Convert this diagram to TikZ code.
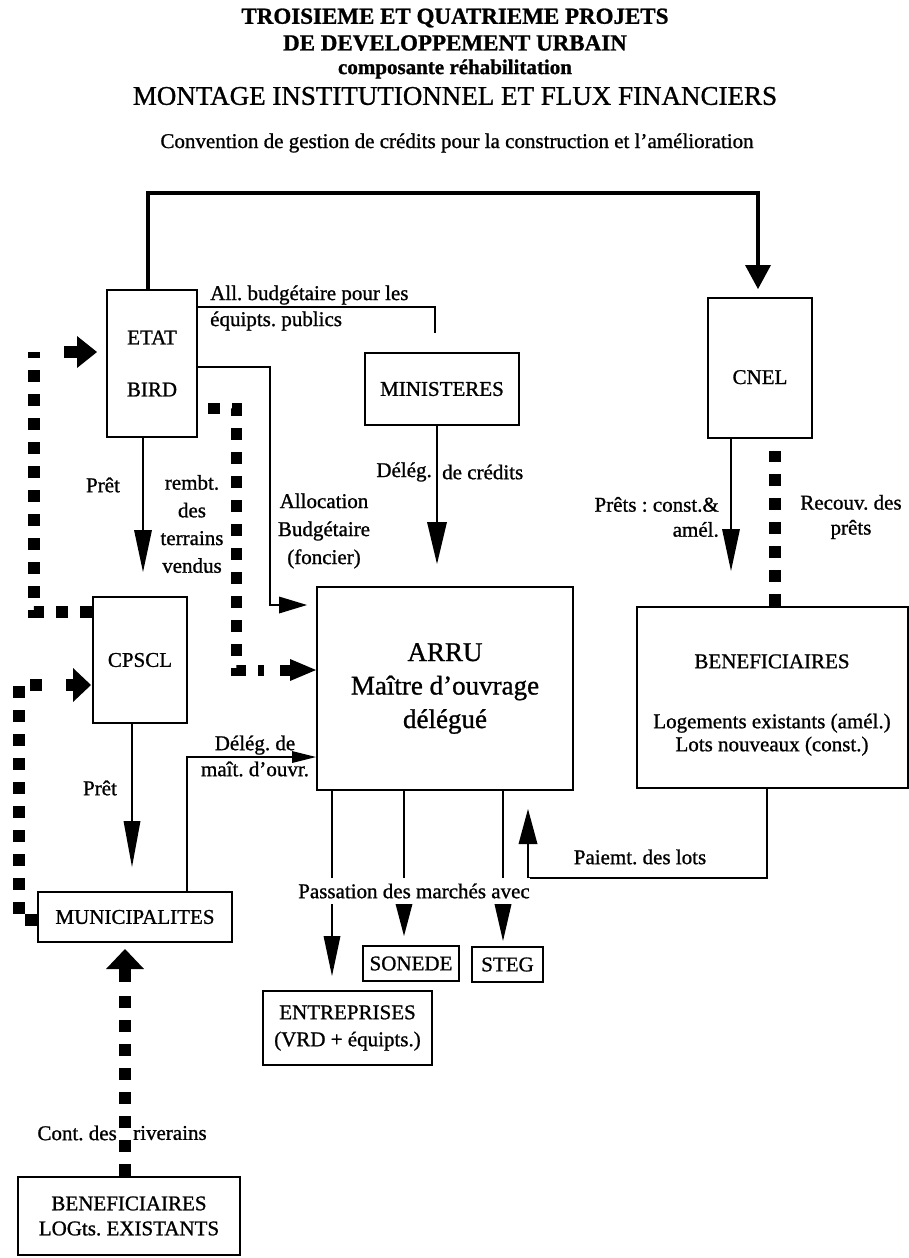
\documentclass[tikz,border=0pt]{standalone}
\usepackage{fontspec}
\setmainfont[FakeBold=1]{Liberation Serif}
\usetikzlibrary{arrows.meta,calc}
\frenchspacing
\begin{document}
\begin{tikzpicture}[x=1pt,y=-1pt,
  box/.style={draw, line width=2pt, rectangle, inner sep=0pt, align=center, font=\fontsize{21}{25}\selectfont},
  lbl/.style={inner sep=0pt, align=center, font=\fontsize{21}{25}\selectfont},
  plain/.style={line width=2pt},
  flow/.style={line width=2pt, -{Triangle[length=42pt,width=18pt,line width=0pt]}},
  mainline/.style={line width=4pt, -{Triangle[length=24pt,width=26pt,line width=0pt]}},
  dotline/.style={line width=12pt, dash pattern=on 12pt off 12pt},
  fatarrow/.style={line width=12pt, -{Triangle[length=20pt,width=32pt,line width=0pt]}}
]
\useasboundingbox (0,0) rectangle (909,1258);

% ---------- titles ----------
\node[lbl, font=\bfseries\fontsize{23}{23}\selectfont] (t1) at (455,18) {TROISIEME ET QUATRIEME PROJETS};
\node[lbl, font=\bfseries\fontsize{23}{23}\selectfont] (t2) at (455,43) {DE DEVELOPPEMENT URBAIN};
\node[lbl, font=\bfseries\fontsize{21}{21}\selectfont] (t3) at (455,69) {composante réhabilitation};
\node[lbl, font=\fontsize{27}{27}\selectfont] (t4) at (455,96) {MONTAGE INSTITUTIONNEL ET FLUX FINANCIERS};
\node[lbl] (conv) at (457,143) {Convention de gestion de crédits pour la construction et l'amélioration};

% ---------- boxes ----------
\node[box, minimum width=90pt, minimum height=147pt, font=\fontsize{21}{52}\selectfont] (etat) at (152,363.5) {ETAT\\BIRD};
\node[box, minimum width=154pt, minimum height=72pt] (min) at (442,389) {MINISTERES};
\node[box, minimum width=104pt, minimum height=140pt, text height=32pt, text depth=0pt] (cnel) at (760,368) {CNEL};
\node[box, minimum width=256pt, minimum height=203pt, font=\fontsize{27}{33.5}\selectfont] (arru) at (445,688.5) {ARRU\\Maître d'ouvrage\\délégué};
\node[box, minimum width=271pt, minimum height=181pt] (benef) at (772.5,697.5) {};
\node[lbl, font=\fontsize{21}{23}\selectfont] (benefT) at (772,705) {BENEFICIAIRES\\[37pt]Logements existants (amél.)\\Lots nouveaux (const.)};
\node[box, minimum width=94pt, minimum height=126pt] (cpscl) at (140,660) {CPSCL};
\node[box, minimum width=194pt, minimum height=50pt] (muni) at (135,917) {MUNICIPALITES};
\node[box, minimum width=96pt, minimum height=35pt] (sonede) at (411,963.5) {SONEDE};
\node[box, minimum width=71pt, minimum height=35pt] (steg) at (507.5,964.5) {STEG};
\node[box, minimum width=169pt, minimum height=74pt, font=\fontsize{21}{27}\selectfont] (entr) at (347.5,1028) {ENTREPRISES\\(VRD + équipts.)};
\node[box, minimum width=222pt, minimum height=78pt] (benef2) at (129,1216) {BENEFICIAIRES\\LOGts. EXISTANTS};

% ---------- coordinates ----------
\coordinate (topL) at (148,193);
\coordinate (topR) at (758,193);
\coordinate (allC) at (435,307);
\coordinate (allE) at (435,333);
\coordinate (alcA) at (270,367);
\coordinate (alcB) at (270,605);
\coordinate (minX) at (437,0);
\coordinate (pretX) at (143,0);
\coordinate (cnelX) at (731,0);
\coordinate (cpX) at (132,0);
\coordinate (dmA) at (187,757);
\coordinate (eX) at (332,0);
\coordinate (sX) at (404,0);
\coordinate (gX) at (503,0);
\coordinate (payR) at (767,878);
\coordinate (payL) at (528,878);
\coordinate (d1a) at (34,612);
\coordinate (d1b) at (34,352);
\coordinate (d1c) at (64,352);
\coordinate (d2a) at (19,920);
\coordinate (d2b) at (19,685);
\coordinate (d2c) at (52,685);
\coordinate (d2d) at (66,685);
\coordinate (d3a) at (236,408);
\coordinate (d3b) at (236,670);
\coordinate (d3c) at (264,670);
\coordinate (d3d) at (280,670);
\coordinate (d4) at (125,993);
\coordinate (d4b) at (125,982);
\coordinate (d5) at (775,451);

% ---------- solid connectors ----------
\draw[mainline, shorten >=8pt] (etat.north -| topL) -- (topL) -- (topR) -- (cnel.north -| topR);
\draw[plain] (etat.east |- allC) -- (allC) -- (allE);
\draw[plain, -{Triangle[length=28pt,width=17pt,line width=0pt]}, shorten >=9pt]
  (etat.east |- alcA) -- (alcA) -- (alcB) -- (arru.west |- alcB);
\draw[flow, -{Triangle[length=42pt,width=20pt,line width=0pt]}, shorten >=22pt] (min.south -| minX) -- (arru.north -| minX);
\draw[flow, shorten >=24pt] (etat.south -| pretX) -- (cpscl.north -| pretX);
\draw[flow, shorten >=35pt] (cnel.south -| cnelX) -- (benef.north -| cnelX);
\draw[flow, -{Triangle[length=46pt,width=17pt,line width=0pt]}, shorten >=24pt] (cpscl.south -| cpX) -- (muni.north -| cpX);
\draw[plain, -{Triangle[length=24pt,width=12pt,line width=0pt]}] (muni.north -| dmA) -- (dmA) -- (arru.west |- dmA);
\draw[flow, -{Triangle[length=40pt,width=17pt,line width=0pt]}, shorten >=14pt] (arru.south -| eX) -- (entr.north -| eX);
\draw[flow, -{Triangle[length=34pt,width=18pt,line width=0pt]}, shorten >=9pt] (arru.south -| sX) -- (sonede.north -| sX);
\draw[flow, -{Triangle[length=39pt,width=18pt,line width=0pt]}, shorten >=5pt] (arru.south -| gX) -- (steg.north -| gX);
\draw[flow, -{Triangle[length=35pt,width=19pt,line width=0pt]}, shorten >=18pt]
  (benef.south -| payR) -- (payR) -- (payL) -- (arru.south -| payL);

% ---------- dotted connectors ----------
\draw[dotline] (cpscl.west |- d1a) -- (d1a) -- (d1b);
\draw[fatarrow, shorten >=9pt] (d1c) -- (etat.west |- d1c);
\draw[dotline] (muni.west |- d2a) -- (d2a) -- (d2b) -- (d2c);
\draw[fatarrow, -{Triangle[length=18pt,width=34pt,line width=0pt]}, shorten >=1pt] (d2d) -- (cpscl.west |- d2d);
\draw[dotline, line width=11pt] ($(etat.east |- d3a)+(10,0)$) -- (d3a) -- (d3b) -- (d3c);
\draw[fatarrow, line width=11pt, -{Triangle[length=26pt,width=22pt,line width=0pt]}] (d3d) -- (arru.west |- d3d);
\draw[dotline] (benef2.north -| d4) -- (d4);
\draw[fatarrow, -{Triangle[length=20pt,width=38pt,line width=0pt]}, shorten >=6pt] (d4b) -- (muni.south -| d4b);
\draw[dotline] (benef.north -| d5) -- (d5);

% ---------- labels ----------
\node[lbl, align=left, anchor=west, font=\fontsize{21}{26}\selectfont] (allT) at (210,308) {All. budgétaire pour les\\équipts. publics};
\node[lbl, font=\fontsize{21}{28}\selectfont] (alcT) at (324,531) {Allocation\\Budgétaire\\(foncier)};
\node[lbl, font=\fontsize{21}{27.7}\selectfont] (rembT) at (192,524) {rembt.\\des\\terrains\\vendus};
\node[lbl] (pret1) at (103,485) {Prêt};
\node[lbl, anchor=east] (delA) at (432,472) {Délég.};
\node[lbl, anchor=west] (delB) at (442,472) {de crédits};
\node[lbl, align=right, anchor=east] (pretsT) at (719,517) {Prêts : const.\&\\amél.};
\node[lbl] (recT) at (851,517) {Recouv. des\\prêts};
\node[lbl] (pret2) at (100,788) {Prêt};
\node[lbl, font=\fontsize{21}{26}\selectfont] (delmT) at (255,756) {Délég. de\\maît. d'ouvr.};
\node[lbl] (payT) at (640,857) {Paiemt. des lots};
\node[lbl, fill=white, minimum height=26pt] (passT) at (414,891) {Passation des marchés avec};
\node[lbl, anchor=east] (contA) at (117,1133) {Cont. des};
\node[lbl, anchor=west] (contB) at (133,1133) {riverains};
\end{tikzpicture}
\end{document}
